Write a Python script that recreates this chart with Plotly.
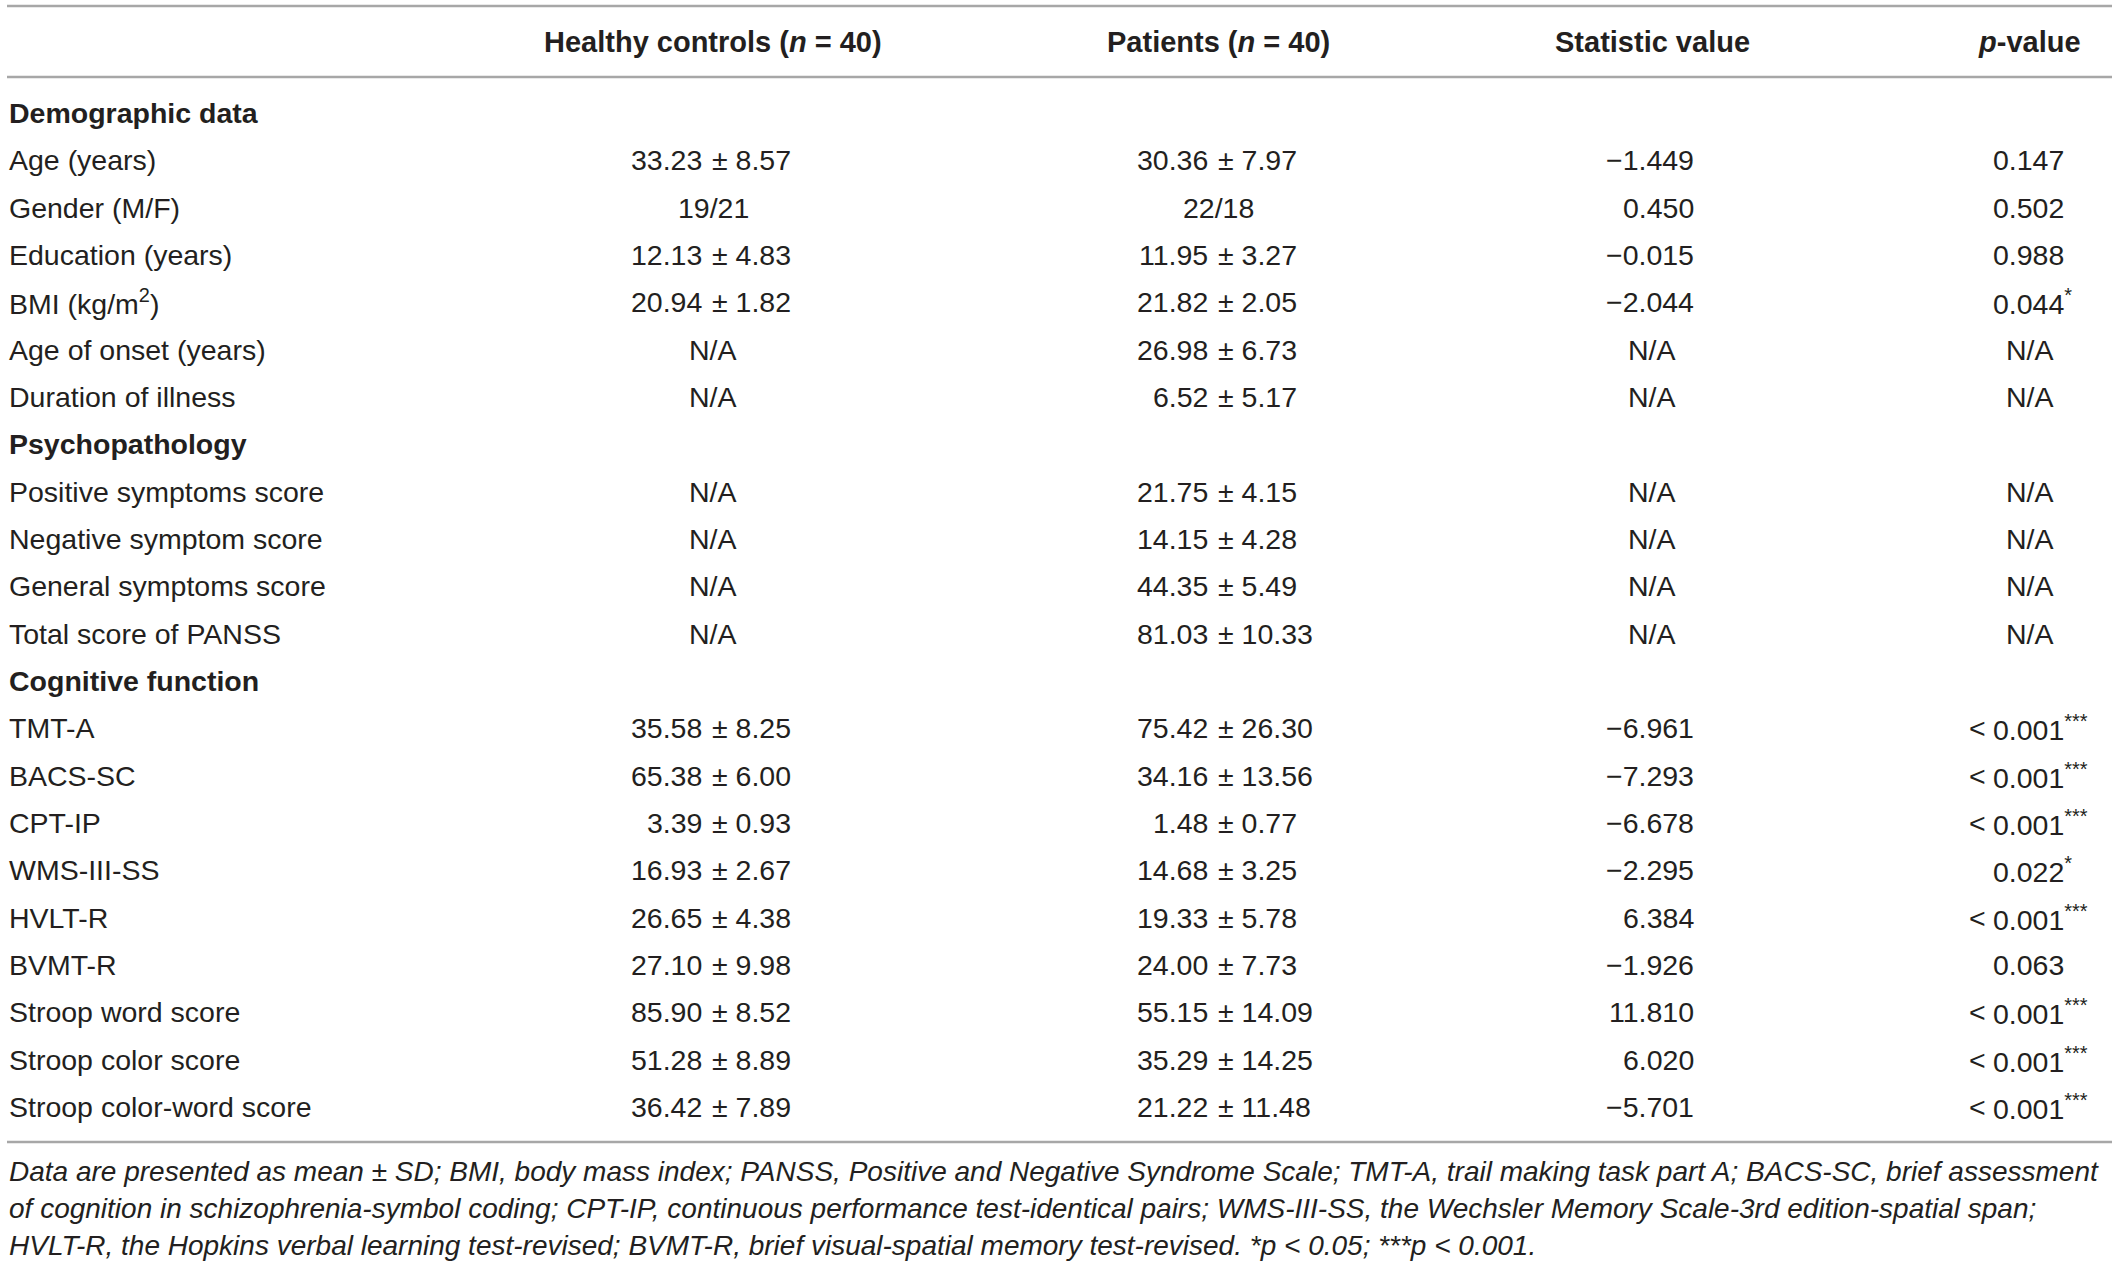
import plotly.graph_objects as go

# ============================================================
# 1. TABLE DATA
# ============================================================
col_headers = ["Healthy controls (<i>n</i> = 40)", "Patients (<i>n</i> = 40)",
               "Statistic value", "<i>p</i>-value"]

row_labels = [
    "Demographic data", "Age (years)", "Gender (M/F)", "Education (years)",
    "BMI (kg/m<sup>2</sup>)", "Age of onset (years)", "Duration of illness",
    "Psychopathology", "Positive symptoms score", "Negative symptom score",
    "General symptoms score", "Total score of PANSS",
    "Cognitive function", "TMT-A", "BACS-SC", "CPT-IP", "WMS-III-SS", "HVLT-R",
    "BVMT-R", "Stroop word score", "Stroop color score", "Stroop color-word score",
]
section_rows = ["Demographic data", "Psychopathology", "Cognitive function"]

hc_values = [
    "", "33.23 ± 8.57", "19/21", "12.13 ± 4.83", "20.94 ± 1.82", "N/A", "N/A",
    "", "N/A", "N/A", "N/A", "N/A",
    "", "35.58 ± 8.25", "65.38 ± 6.00", "3.39 ± 0.93", "16.93 ± 2.67",
    "26.65 ± 4.38", "27.10 ± 9.98", "85.90 ± 8.52", "51.28 ± 8.89", "36.42 ± 7.89",
]
pt_values = [
    "", "30.36 ± 7.97", "22/18", "11.95 ± 3.27", "21.82 ± 2.05", "26.98 ± 6.73",
    "6.52 ± 5.17",
    "", "21.75 ± 4.15", "14.15 ± 4.28", "44.35 ± 5.49", "81.03 ± 10.33",
    "", "75.42 ± 26.30", "34.16 ± 13.56", "1.48 ± 0.77", "14.68 ± 3.25",
    "19.33 ± 5.78", "24.00 ± 7.73", "55.15 ± 14.09", "35.29 ± 14.25", "21.22 ± 11.48",
]
stat_values = [
    "", "−1.449", "0.450", "−0.015", "−2.044", "N/A", "N/A",
    "", "N/A", "N/A", "N/A", "N/A",
    "", "−6.961", "−7.293", "−6.678", "−2.295", "6.384", "−1.926", "11.810",
    "6.020", "−5.701",
]
p_values = [
    "", "0.147", "0.502", "0.988", "0.044*", "N/A", "N/A",
    "", "N/A", "N/A", "N/A", "N/A",
    "", "<0.001***", "<0.001***", "<0.001***", "0.022*", "<0.001***", "0.063",
    "<0.001***", "<0.001***", "<0.001***",
]

footnote_lines = [
    "Data are presented as mean ± SD; BMI, body mass index; PANSS, Positive and Negative "
    "Syndrome Scale; TMT-A, trail making task part A; BACS-SC, brief assessment",
    "of cognition in schizophrenia-symbol coding; CPT-IP, continuous performance "
    "test-identical pairs; WMS-III-SS, the Wechsler Memory Scale-3rd edition-spatial span;",
    "HVLT-R, the Hopkins verbal learning test-revised; BVMT-R, brief visual-spatial "
    "memory test-revised. *p < 0.05; ***p < 0.001.",
]

# ============================================================
# 2. LAYOUT CONSTANTS (pixel space of the page)
# ============================================================
W, H = 2118, 1265
FONT = "Liberation Sans, Arial, sans-serif"
TXT = "#231f20"
RULE = "#a7a7a7"
FS = 28.5
FS_HEAD = 29
FS_FOOT = 28
X_LABEL = 7
X_HC_MEAN_R, X_HC_PM_L = 704, 710     # mean right edge / ± left edge
X_PT_MEAN_R, X_PT_PM_L = 1210, 1216
X_HC_C, X_PT_C = 713, 1218
X_STAT_R, X_STAT_C = 1696, 1652
X_P_L, X_P_C = 1991, 2030
HEADER_Y = 42
ROW_Y0, ROW_H = 113, 47.33
RULE_TOP, RULE_MID, RULE_BOT = 6, 77, 1142
FOOT_Y0, FOOT_H = 1171, 37

annotations = []


def add(text, x, y, anchor="left", bold=False, italic=False, size=FS):
    if bold:
        text = "<b>" + text + "</b>"
    if italic:
        text = "<i>" + text + "</i>"
    annotations.append(dict(
        text=text, x=x, y=y, xref="x", yref="y", xanchor=anchor, yanchor="middle",
        showarrow=False, font=dict(family=FONT, size=size, color=TXT),
    ))


def add_pm(value, x_mean_r, x_pm_l, x_center, y):
    # mean ± SD cells are aligned on the ± sign
    if " ± " in value:
        mean, sd = value.split(" ± ")
        add(mean, x_mean_r, y, "right")
        add("± " + sd, x_pm_l, y, "left")
    elif value:
        add(value, x_center, y, "center")


# header
header_x = [X_HC_C, X_PT_C, X_STAT_C, 2083]
header_anchor = ["center", "center", "center", "right"]
for txt, x, a in zip(col_headers, header_x, header_anchor):
    add(txt, x, HEADER_Y, a, bold=True, size=FS_HEAD)

# body
for i, lab in enumerate(row_labels):
    y = ROW_Y0 + i * ROW_H
    add(lab, X_LABEL, y, "left", bold=lab in section_rows)
    add_pm(hc_values[i], X_HC_MEAN_R, X_HC_PM_L, X_HC_C, y)
    add_pm(pt_values[i], X_PT_MEAN_R, X_PT_PM_L, X_PT_C, y)

    s = stat_values[i]
    if s == "N/A":
        add(s, X_STAT_C, y, "center")
    elif s:
        add(s, X_STAT_R, y, "right")

    p = p_values[i]
    if p == "N/A":
        add(p, X_P_C, y, "center")
    elif p:
        stars = p.count("*")
        num = p.replace("*", "").replace("<", "")
        if stars:
            num += "<sup>" + "*" * stars + "</sup>"
        add(num, X_P_L, y, "left")
        if p.startswith("<"):
            add("<", X_P_L - 3, y, "right")

# footnote
for k, line in enumerate(footnote_lines):
    add(line, X_LABEL, FOOT_Y0 + k * FOOT_H, "left", italic=True, size=FS_FOOT)

shapes = [
    dict(type="line", xref="x", yref="y", x0=7, x1=2112, y0=yy, y1=yy,
         line=dict(color=RULE, width=2.5))
    for yy in (RULE_TOP, RULE_MID, RULE_BOT)
]

# ============================================================
# 3. FIGURE
# ============================================================
fig = go.Figure()
fig.update_layout(
    width=W, height=H,
    margin=dict(l=0, r=0, t=0, b=0),
    paper_bgcolor="white", plot_bgcolor="white",
    xaxis=dict(range=[0, W], visible=False, fixedrange=True),
    yaxis=dict(range=[H, 0], visible=False, fixedrange=True),
    annotations=annotations,
    shapes=shapes,
    showlegend=False,
)

# drop the default 8px page margin so the table sits at the page origin
fig.write_html("out.html", config={"displayModeBar": False},
               post_script="document.body.style.margin = '0';")
